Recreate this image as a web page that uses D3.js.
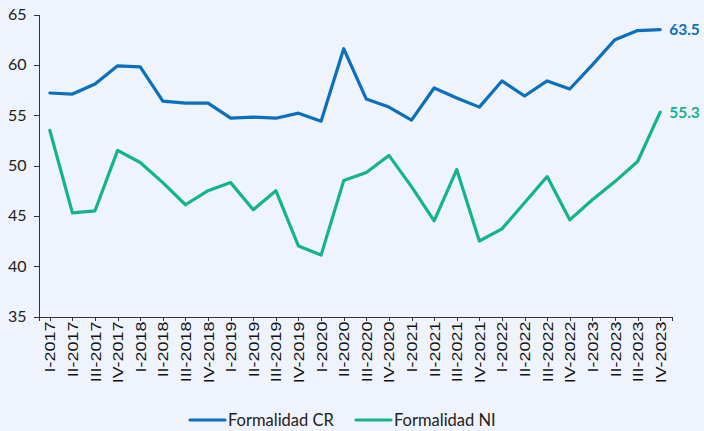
<!DOCTYPE html>
<html>
<head>
<meta charset="utf-8">
<script src="https://cdn.jsdelivr.net/npm/d3@7"></script>
<style>
  html, body { margin: 0; padding: 0; background: #eff3fb; }
  svg { display: block; }
  .axis path, .axis line { stroke: #333; shape-rendering: crispEdges; }
</style>
</head>
<body>
<div id="chart"></div>
<script>
// quarters
var quarters = [
  "I-2017", "II-2017", "III-2017", "IV-2017",
  "I-2018", "II-2018", "III-2018", "IV-2018",
  "I-2019", "II-2019", "III-2019", "IV-2019",
  "I-2020", "II-2020", "III-2020", "IV-2020",
  "I-2021", "II-2021", "III-2021", "IV-2021",
  "I-2022", "II-2022", "III-2022", "IV-2022",
  "I-2023", "II-2023", "III-2023", "IV-2023"
];

var formalidadCR = [
  57.2, 57.1, 58.1, 59.9, 59.8, 56.4, 56.2, 56.2,
  54.7, 54.8, 54.7, 55.2, 54.4, 61.6, 56.6, 55.8,
  54.5, 57.7, 56.7, 55.8, 58.4, 56.9, 58.4, 57.6,
  60.0, 62.5, 63.4, 63.5
];

var formalidadNI = [
  53.5, 45.3, 45.5, 51.5, 50.3, 48.3, 46.1, 47.5,
  48.3, 45.6, 47.5, 42.0, 41.1, 48.5, 49.3, 51.0,
  47.9, 44.5, 49.6, 42.5, 43.7, 46.3, 48.9, 44.6,
  46.6, 48.4, 50.4, 55.3
];

var yTicks = [35, 40, 45, 50, 55, 60, 65];

var series = [
  {name: "Formalidad CR", values: formalidadCR, color: "#0a6fbd"},
  {name: "Formalidad NI", values: formalidadNI, color: "#13b38f"}
];

var W = 704, H = 431;
var margin = {top: 14.5, right: 32.5, bottom: 114.5, left: 38.5};
var width = W - margin.left - margin.right;
var height = H - margin.top - margin.bottom;

var svg = d3.select("#chart")
  .append("svg")
  .attr("width", W)
  .attr("height", H)
  .append("g")
  .attr("transform", "translate(" + margin.left + "," + margin.top + ")");

// x - axes
var x = d3.scalePoint().domain(quarters).range([0, width]).padding(0.5);

// y-axes
var y = d3.scaleLinear().domain([35, 65]).range([height, 0]);

svg.append("g")
  .attr("class", "axis")
  .call(d3.axisLeft(y).tickValues(yTicks).tickSize(5).tickSizeOuter(0).tickPadding(7))
  .call(function (g) {
    g.selectAll("text")
      .style("font-family", "Lato, sans-serif")
      .style("font-size", "16px")
      .style("fill", "#222");
  });

var xAxis = svg.append("g")
  .attr("class", "axis")
  .attr("transform", "translate(0," + height + ")")
  .call(d3.axisBottom(x).tickSize(4).tickSizeOuter(4));

xAxis.selectAll("text")
  .attr("x", -4)
  .attr("y", 0)
  .attr("dy", "0.36em")
  .attr("transform", "rotate(-90) scale(1.28,1)")
  .style("text-anchor", "end")
  .style("font-family", "'Liberation Sans', Arial, sans-serif")
  .style("font-size", "14px")
  .style("fill", "#111");

// lines
var line = d3.line()
  .x(function (d, i) { return x(quarters[i]); })
  .y(function (d) { return y(d); });

svg.selectAll("path.serie")
  .data(series)
  .enter()
  .append("path")
  .attr("class", "serie")
  .attr("d", function (d) { return line(d.values); })
  .attr("fill", "none")
  .attr("stroke", function (d) { return d.color; })
  .attr("stroke-width", 3.2)
  .attr("stroke-linejoin", "round")
  .attr("stroke-linecap", "round");

// last value labels
svg.selectAll("text.last")
  .data(series)
  .enter()
  .append("text")
  .attr("class", "last")
  .attr("x", function (d) { return x(quarters[quarters.length - 1]) + 9; })
  .attr("y", function (d) { return y(d.values[d.values.length - 1]); })
  .attr("dy", "0.36em")
  .text(function (d) { return d.values[d.values.length - 1].toFixed(1); })
  .style("fill", function (d) { return d.color; })
  .style("font-family", "Lato, sans-serif")
  .style("font-weight", "bold")
  .style("font-size", "15.5px");

// legend
var legend = d3.select("svg").append("g")
  .attr("transform", "translate(190,420)");

var legendX = [0, 166];
var item = legend.selectAll("g")
  .data(series)
  .enter()
  .append("g")
  .attr("transform", function (d, i) { return "translate(" + legendX[i] + ",0)"; });

item.append("line")
  .attr("x1", 0).attr("x2", 35)
  .attr("y1", 0).attr("y2", 0)
  .attr("stroke", function (d) { return d.color; })
  .attr("stroke-width", 3.2)
  .attr("stroke-linecap", "round");

item.append("text")
  .attr("x", 38)
  .attr("y", 0)
  .attr("dy", "0.36em")
  .text(function (d) { return d.name; })
  .style("fill", "#222")
  .style("font-family", "Lato, sans-serif")
  .style("font-size", "16.5px");
</script>
</body>
</html>
